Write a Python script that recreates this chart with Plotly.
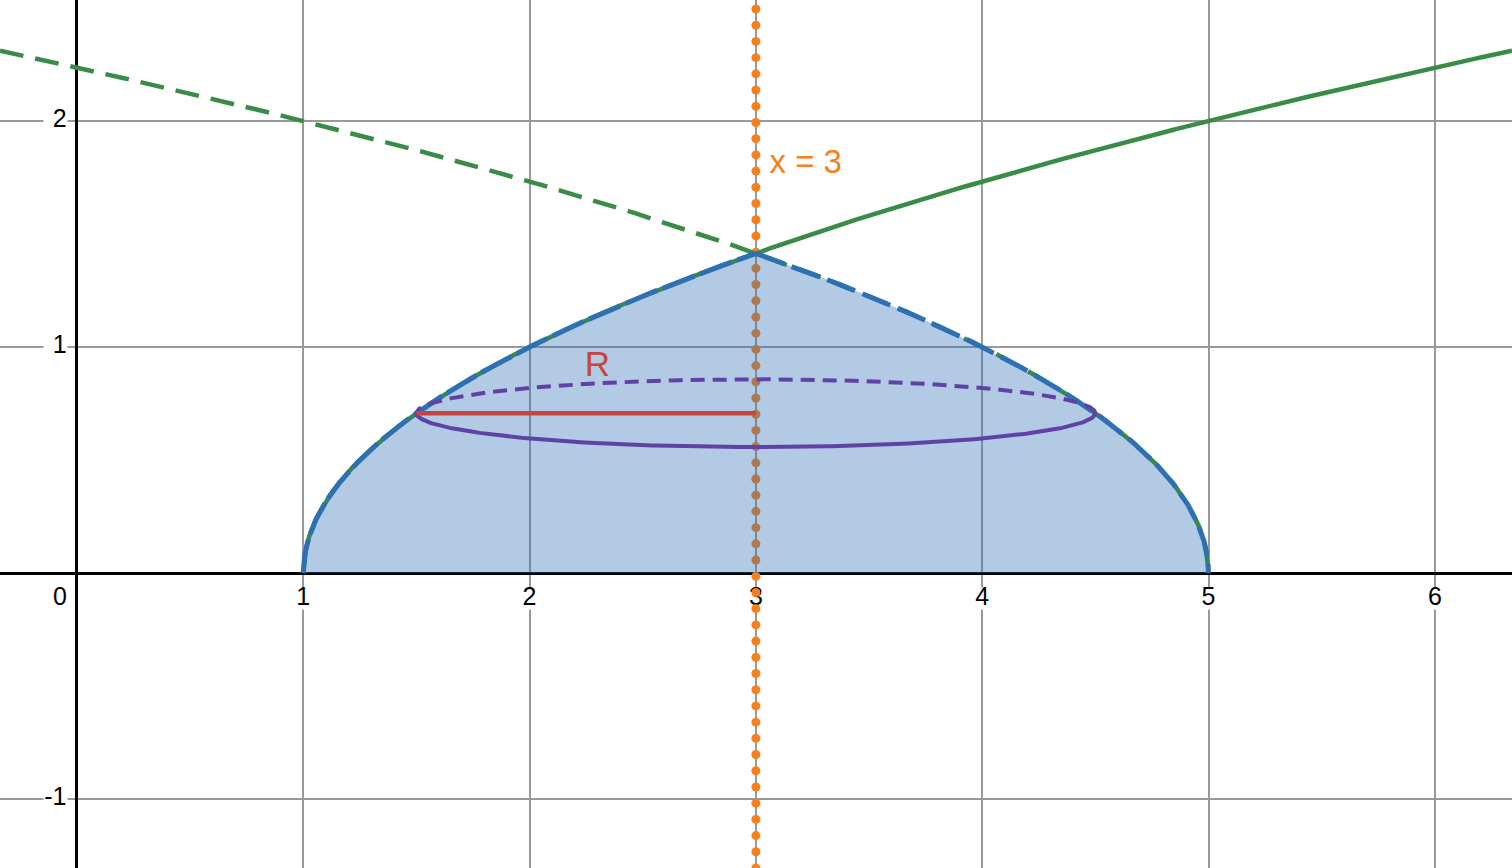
import numpy as np
import plotly.graph_objects as go

# ---- data / parameters ----
x_ticks = [1, 2, 3, 4, 5, 6]
x_tick_labels = ["1", "2", "3", "4", "5", "6"]
y_ticks = [2, 1, -1]
y_tick_labels = ["2", "1", "-1"]
origin_label = "0"

left_root = 1.0        # y = sqrt(x - 1)
right_root = 5.0       # y = sqrt(5 - x)
axis_x = 3.0           # axis of rotation x = 3
slice_y = np.sqrt(0.5)  # height of the sample slice
slice_left = 1.5
slice_right = 4.5
ellipse_ry = 0.15

x_range = [-0.340, 6.341]
y_range = [-1.305, 2.535]

GREEN = "#388c46"
BLUE = "#2d70b3"
ORANGE = "#fa7e19"
PURPLE = "#6042a6"
RED = "#c74440"
FONT = "Liberation Sans, Arial, sans-serif"
LABEL_Y = -0.113

fig = go.Figure()

# white label backgrounds (interrupt grid lines like the reference)
fig.add_trace(go.Scatter(
    x=x_ticks, y=[LABEL_Y] * len(x_ticks), mode="markers",
    marker=dict(symbol="square", size=22, color="white"),
    hoverinfo="skip", showlegend=False))
fig.add_trace(go.Scatter(
    x=[-0.095] * len(y_ticks), y=y_ticks, mode="markers",
    marker=dict(symbol="square", size=24, color="white"),
    hoverinfo="skip", showlegend=False))

# tick labels (drawn first so the dotted line lies over them)
fig.add_trace(go.Scatter(
    x=x_ticks, y=[LABEL_Y] * len(x_ticks), mode="text", text=x_tick_labels,
    textposition="middle center", textfont=dict(size=25, color="black", family=FONT),
    hoverinfo="skip", showlegend=False))
fig.add_trace(go.Scatter(
    x=[-0.046] * len(y_ticks), y=y_ticks, mode="text", text=y_tick_labels,
    textposition="middle left", textfont=dict(size=25, color="black", family=FONT),
    hoverinfo="skip", showlegend=False))
fig.add_trace(go.Scatter(
    x=[-0.075], y=[LABEL_Y], mode="text", text=[origin_label],
    textposition="middle center", textfont=dict(size=25, color="black", family=FONT),
    hoverinfo="skip", showlegend=False))

# dotted vertical line x = 3
dot_y = np.arange(y_range[0], y_range[1] + 0.1, 0.0717)
fig.add_trace(go.Scatter(
    x=np.full_like(dot_y, axis_x), y=dot_y, mode="markers",
    marker=dict(size=9, color=ORANGE), hoverinfo="skip", showlegend=False))

# green curves
xg1 = np.linspace(left_root, x_range[1], 400)
fig.add_trace(go.Scatter(x=xg1, y=np.sqrt(xg1 - left_root), mode="lines",
                         line=dict(color=GREEN, width=4.5), hoverinfo="skip", showlegend=False))
xg2 = np.linspace(x_range[0], right_root, 600)
fig.add_trace(go.Scatter(x=xg2, y=np.sqrt(np.clip(right_root - xg2, 0, None)), mode="lines",
                         line=dict(color=GREEN, width=4.5, dash="24px,12px"),
                         hoverinfo="skip", showlegend=False))

# shaded region
xl = left_root + (axis_x - left_root) * (np.linspace(0, 1, 300) ** 2)
xr = axis_x + (right_root - axis_x) * (1 - (1 - np.linspace(0, 1, 300)) ** 2)
yl = np.sqrt(xl - left_root)
yr = np.sqrt(np.clip(right_root - xr, 0, None))
fx = np.concatenate([xl, xr[1:], [right_root, left_root]])
fy = np.concatenate([yl, yr[1:], [0, 0]])
fig.add_trace(go.Scatter(x=fx, y=fy, mode="lines", fill="toself",
                         fillcolor="rgba(45,112,179,0.37)", line=dict(width=0),
                         hoverinfo="skip", showlegend=False))
# region boundaries
fig.add_trace(go.Scatter(x=xl, y=yl, mode="lines",
                         line=dict(color=BLUE, width=5, dash="34px,6px"),
                         hoverinfo="skip", showlegend=False))
fig.add_trace(go.Scatter(x=xr, y=yr, mode="lines",
                         line=dict(color=BLUE, width=5, dash="30px,8px"),
                         hoverinfo="skip", showlegend=False))

# ellipse (cross-section)
cx = (slice_left + slice_right) / 2
rx = (slice_right - slice_left) / 2
t_low = np.linspace(np.pi, 2 * np.pi, 300)
t_up = np.linspace(0, np.pi, 300)
fig.add_trace(go.Scatter(x=cx + rx * np.cos(t_low), y=slice_y + ellipse_ry * np.sin(t_low),
                         mode="lines", line=dict(color=PURPLE, width=4),
                         hoverinfo="skip", showlegend=False))
fig.add_trace(go.Scatter(x=cx + rx * np.cos(t_up), y=slice_y + ellipse_ry * np.sin(t_up),
                         mode="lines", line=dict(color=PURPLE, width=4, dash="14px,8px"),
                         hoverinfo="skip", showlegend=False))

# radius R
fig.add_trace(go.Scatter(x=[slice_left, axis_x], y=[slice_y, slice_y], mode="lines",
                         line=dict(color=RED, width=4.5), hoverinfo="skip", showlegend=False))

# labels
fig.add_trace(go.Scatter(x=[2.30], y=[0.91], mode="text", text=["R"],
                         textposition="middle center",
                         textfont=dict(size=35, color=RED, family=FONT),
                         hoverinfo="skip", showlegend=False))
fig.add_trace(go.Scatter(x=[3.06], y=[1.805], mode="text", text=["x = 3"],
                         textposition="middle right",
                         textfont=dict(size=33, color=ORANGE, family=FONT),
                         hoverinfo="skip", showlegend=False))

fig.update_layout(
    width=1512, height=868, margin=dict(l=0, r=0, t=0, b=0),
    plot_bgcolor="white", paper_bgcolor="white", showlegend=False,
    xaxis=dict(range=x_range, tickvals=list(range(-1, 8)), showticklabels=False,
               showgrid=True, gridcolor="#9a9a9a", gridwidth=1.5,
               zeroline=True, zerolinecolor="black", zerolinewidth=3,
               fixedrange=True),
    yaxis=dict(range=y_range, tickvals=list(range(-2, 4)), showticklabels=False,
               showgrid=True, gridcolor="#9a9a9a", gridwidth=1.5,
               zeroline=True, zerolinecolor="black", zerolinewidth=3,
               fixedrange=True),
)

fig.write_html("out.html", config={"displayModeBar": False},
               post_script="document.body.style.margin='0';document.body.style.overflow='hidden';")
